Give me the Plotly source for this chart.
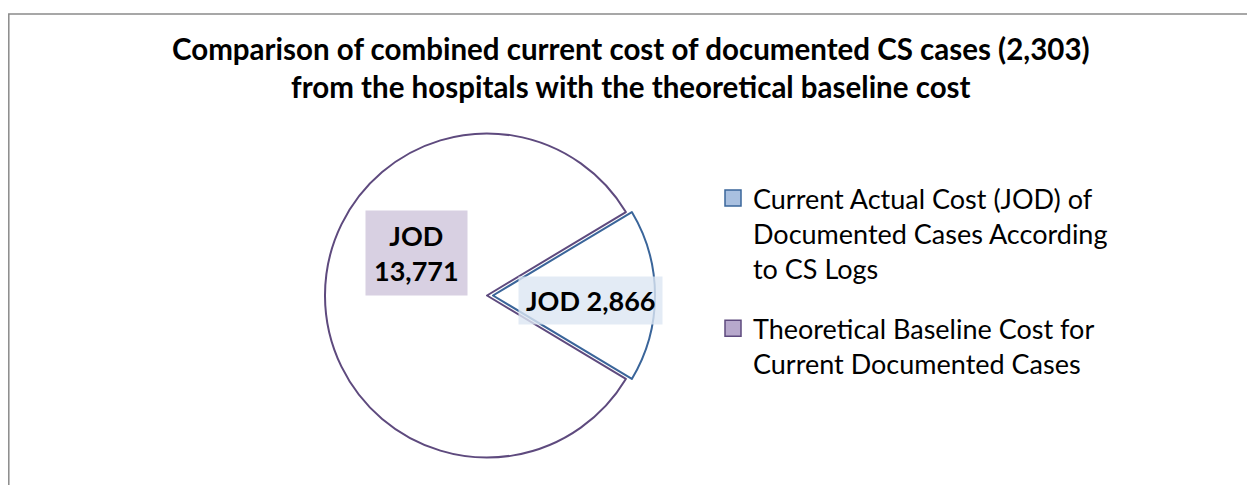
import plotly.graph_objects as go

# slice labels (legend text) and values in JOD
labels = ["Current Actual Cost (JOD) of<br>Documented Cases According<br>to CS Logs",
          "Theoretical Baseline Cost for<br>Current Documented Cases"]
values = [2866, 13771]
pulls = [0.037, 0]

line_colors = ["#3a659a", "#5e4a7e"]
icon_colors = ["#a9c0e0", "#b7a8cc"]
label_bg = ["rgba(220,230,243,0.8)", "rgba(216,208,226,1)"]

title_text = ("Comparison of combined current cost of documented CS cases (2,303)<br>"
              "from the hospitals with the theoretical baseline cost")

# the page body has an 8px margin, so the figure is drawn 8px in from the corner
OFF = 8
W, H = 1255 - OFF, 485 - OFF


def px(x):
    return (x - OFF) / W


def py(y):
    return 1 - (y - OFF) / H


fig = go.Figure()

frac = values[0] / sum(values)
half = 168
cx, cy = 487, 295.5
fig.add_trace(go.Pie(
    labels=labels, values=values, sort=False, direction="clockwise",
    rotation=90 - frac * 360 / 2, pull=pulls, textinfo="none",
    hoverinfo="label+value", showlegend=False,
    marker=dict(colors=["white", "white"], line=dict(color=line_colors, width=2)),
    domain=dict(x=[px(cx - half), px(cx + half)], y=[py(cy + half), py(cy - half)]),
))

# legend entries with filled square icons
for lab, ic, lc in zip(labels, icon_colors, line_colors):
    fig.add_trace(go.Scatter(
        x=[None], y=[None], mode="markers", name=lab, legendgroup=lab,
        marker=dict(symbol="square", size=16, color=ic, line=dict(color=lc, width=1.5)),
    ))

# value labels in boxes
label_pos = [(590, 300), (416, 252.5)]
label_txt = ["JOD " + f"{values[0]:,}", "JOD<br>" + f"{values[1]:,}"]
label_pad = [7, 8]
for (lx, ly), t, bg, pad in zip(label_pos, label_txt, label_bg, label_pad):
    fig.add_annotation(x=px(lx), y=py(ly), xref="paper", yref="paper",
                       xanchor="center", yanchor="middle",
                       text=t, showarrow=False, bgcolor=bg, borderpad=pad,
                       font=dict(family="Lato", size=27, color="black", weight="bold"))

# title
fig.add_annotation(x=px(631), y=py(68), xref="paper", yref="paper",
                   xanchor="center", yanchor="middle", showarrow=False,
                   text=title_text,
                   font=dict(family="Lato", size=29.5, color="black", weight="bold"))

# chart frame
fig.add_shape(type="rect", xref="paper", yref="paper",
              x0=0.8 / W, y0=-0.05, x1=1.05, y1=py(14),
              line=dict(color="#8a8a8a", width=1.5))

fig.update_layout(
    width=W, height=H,
    margin=dict(l=0, r=0, t=0, b=0),
    paper_bgcolor="white", plot_bgcolor="white",
    xaxis=dict(visible=False), yaxis=dict(visible=False),
    legend=dict(x=px(713), y=py(174), xanchor="left", yanchor="top",
                valign="top", tracegroupgap=22, bgcolor="rgba(0,0,0,0)",
                font=dict(family="Lato", size=27, color="black")),
)

fig.write_html("out.html")
